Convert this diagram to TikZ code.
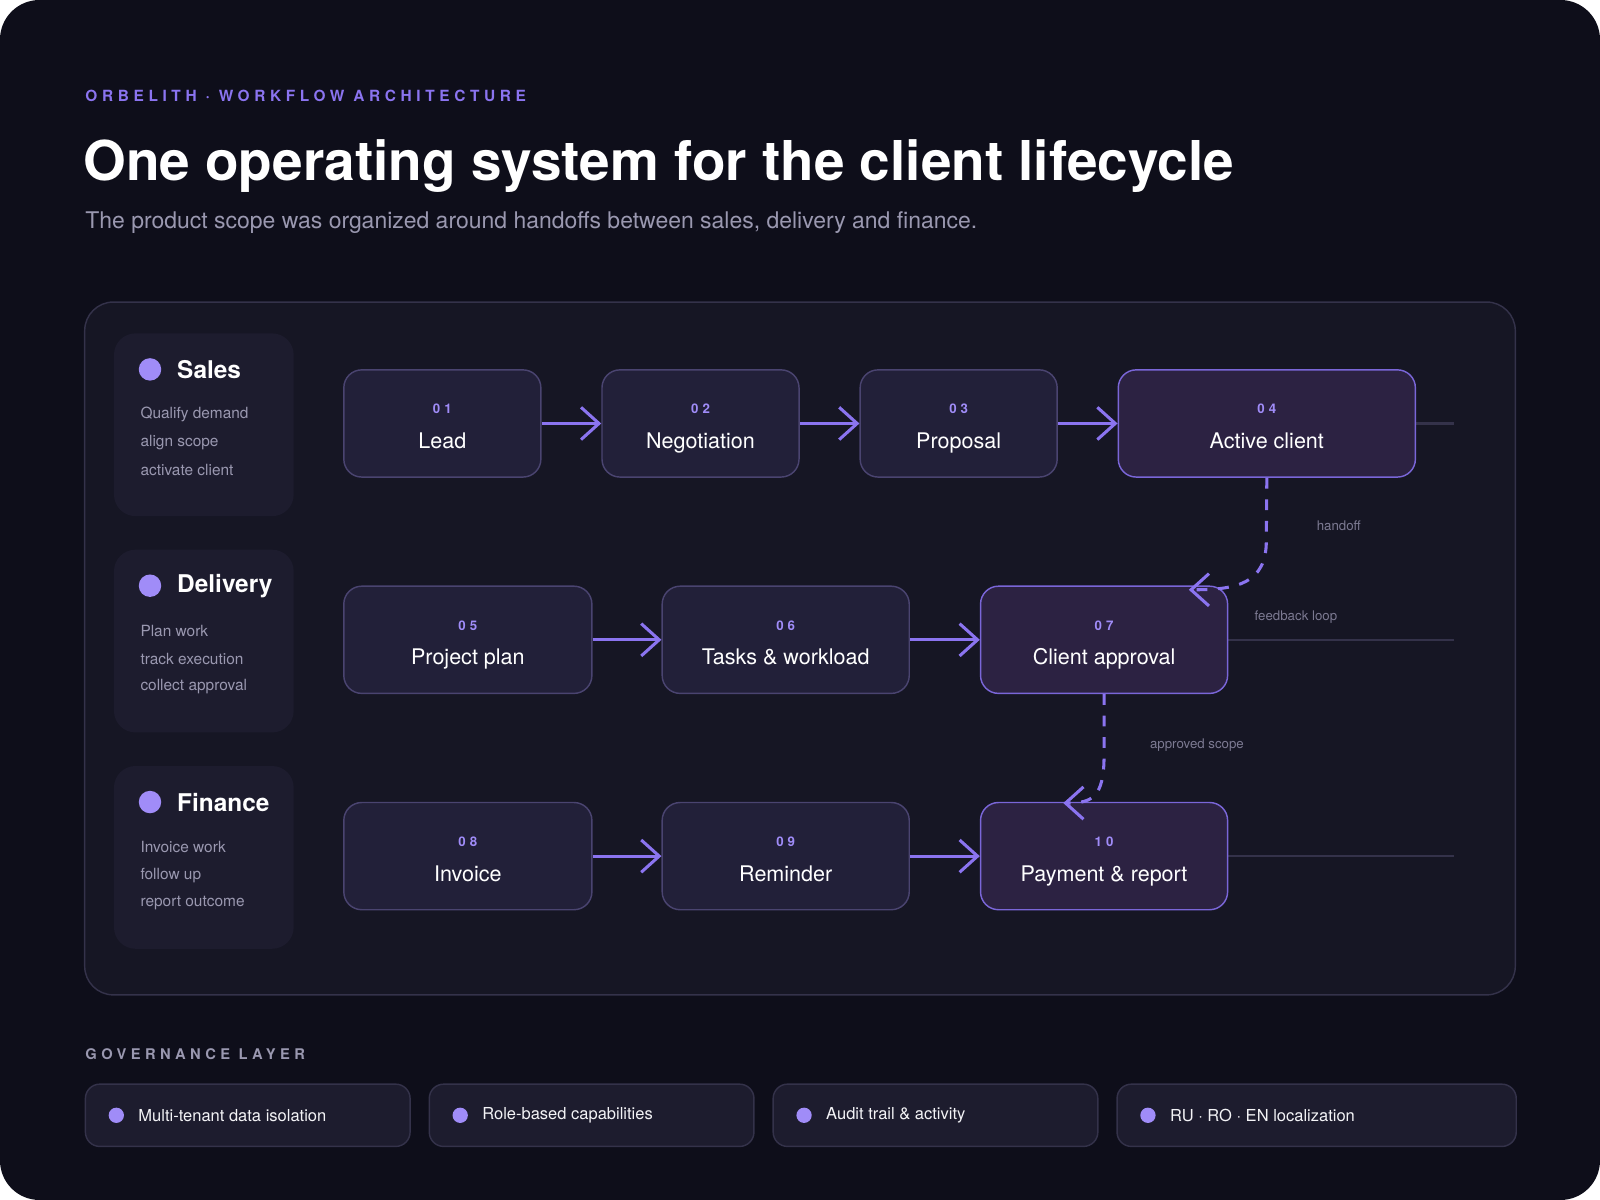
\documentclass[tikz,border=0pt]{standalone}
\usepackage{fontspec}
\setmainfont{TeX Gyre Heros}
\newfontfamily\spaced[LetterSpace=30]{TeX Gyre Heros}
\usetikzlibrary{arrows.meta, positioning}
\definecolor{pagebg}{HTML}{0E0E1A}
\definecolor{panelbg}{HTML}{161624}
\definecolor{panelline}{HTML}{34324A}
\definecolor{lanebg}{HTML}{1D1C2E}
\definecolor{stepbg}{HTML}{222039}
\definecolor{stepline}{HTML}{4A4470}
\definecolor{hotbg}{HTML}{2C2242}
\definecolor{hotline}{HTML}{7A66D8}
\definecolor{accent}{HTML}{8B74F0}
\definecolor{dotc}{HTML}{A08CF8}
\definecolor{greytxt}{HTML}{9A98B0}
\definecolor{dimtxt}{HTML}{7C7A92}
\tikzset{
  stepbox/.style={draw=stepline, fill=stepbg, line width=0.4pt, rounded corners=5pt, minimum height=1.05cm, text=white, font=\fontsize{6}{7}\selectfont, inner sep=0pt},
  hot/.style={stepbox, draw=hotline, fill=hotbg},
  num/.style={text=dotc, anchor=base, inner sep=0pt, font=\spaced\bfseries\fontsize{3.7}{4}\selectfont},
  flow/.style={draw=accent, line width=0.85pt, -{Straight Barb[length=5pt, width=9pt]}},
  hand/.style={draw=accent, line width=0.85pt, dash pattern=on 3pt off 3pt, -{Straight Barb[length=5pt, width=9pt]}},
  note/.style={text=dimtxt, font=\fontsize{3.7}{4}\selectfont},
  lane/.style={fill=lanebg, rounded corners=6pt, minimum width=1.76cm, minimum height=1.79cm, inner sep=0pt},
  dot/.style={circle, fill=dotc, minimum size=0.22cm, inner sep=0pt},
  chip/.style={draw=panelline, fill=lanebg, rounded corners=4pt, minimum height=0.61cm, inner sep=0pt},
}
\begin{document}
\begin{tikzpicture}[x=0.01cm, y=-0.01cm]
  % page
  \fill[white] (0,0) rectangle (1568,1176);
  \fill[pagebg, rounded corners=11pt] (0,0) rectangle (1568,1176);
  \useasboundingbox (0,0) rectangle (1568,1176);

  % header
  \node[anchor=west, text=accent, font=\spaced\bfseries\fontsize{4.3}{5}\selectfont, inner sep=0pt] (kicker) at (83,94) {ORBELITH · WORKFLOW ARCHITECTURE};
  \node[anchor=west, text=white, font=\bfseries\fontsize{15.3}{18}\selectfont, inner sep=0pt] (title) at (81,163) {One operating system for the client lifecycle};
  \node[anchor=west, text=greytxt, font=\fontsize{6.4}{7}\selectfont, inner sep=0pt] (sub) at (83,218) {The product scope was organized around handoffs between sales, delivery and finance.};

  % main panel
  \draw[panelline, fill=panelbg, rounded corners=8pt] (83,296) rectangle (1485,975);

  % lanes
  \foreach \y/\name/\a/\b/\c in {326/Sales/Qualify demand/align scope/activate client,
                                 538/Delivery/Plan work/track execution/collect approval,
                                 750/Finance/Invoice work/follow up/report outcome} {
    \node[lane, anchor=north west] at (111,\y) {};
    \node[dot] at (147,\y+36) {};
    \node[anchor=west, text=white, font=\bfseries\fontsize{6.8}{8}\selectfont, inner sep=0pt] at (173,\y+36) {\name};
    \node[anchor=west, text=greytxt, font=\fontsize{4.3}{5}\selectfont, inner sep=0pt] at (137,\y+80) {\a};
    \node[anchor=west, text=greytxt, font=\fontsize{4.3}{5}\selectfont, inner sep=0pt] at (137,\y+108) {\b};
    \node[anchor=west, text=greytxt, font=\fontsize{4.3}{5}\selectfont, inner sep=0pt] at (137,\y+135) {\c};
  }

  % lane guide lines
  \draw[panelline, line width=0.6pt] (1387,415) -- (1425,415);
  \draw[panelline, line width=0.6pt] (1203,627) -- (1425,627);
  \draw[panelline, line width=0.6pt] (1203,839) -- (1425,839);

  % steps, row 1
  \node[stepbox, minimum width=1.93cm] (s01) at (433.5,415) {};
  \node[stepbox, minimum width=1.93cm] (s02) at (686.5,415) {};
  \node[stepbox, minimum width=1.93cm] (s03) at (939.5,415) {};
  \node[hot, minimum width=2.91cm] (s04) at (1241.5,415) {};
  % steps, row 2
  \node[stepbox, minimum width=2.43cm] (s05) at (458.5,627) {};
  \node[stepbox, minimum width=2.42cm] (s06) at (770,627) {};
  \node[hot, minimum width=2.42cm] (s07) at (1082,627) {};
  % steps, row 3
  \node[stepbox, minimum width=2.43cm] (s08) at (458.5,839) {};
  \node[stepbox, minimum width=2.42cm] (s09) at (770,839) {};
  \node[hot, minimum width=2.42cm] (s10) at (1082,839) {};

  % step texts
  \foreach \s/\n/\t in {s01/01/Lead, s02/02/Negotiation, s03/03/Proposal, s04/04/Active client,
                        s05/05/Project plan, s06/06/Tasks \& workload, s07/07/Client approval,
                        s08/08/Invoice, s09/09/Reminder, s10/10/Payment \& report} {
    \node[num] at ([yshift=0.095cm]\s.center) {\n};
    \node[anchor=base, inner sep=0pt, text=white, font=\fontsize{6}{7}\selectfont] at ([yshift=-0.245cm]\s.center) {\t};
  }

  % flow arrows
  \draw[flow] (s01) -- (s02);
  \draw[flow] (s02) -- (s03);
  \draw[flow] (s03) -- (s04);
  \draw[flow] (s05) -- (s06);
  \draw[flow] (s06) -- (s07);
  \draw[flow] (s08) -- (s09);
  \draw[flow] (s09) -- (s10);

  % handoffs
  \coordinate (in07) at (1165,578);
  \coordinate (in10) at (1042,787);
  \draw[hand] (s04.south) -- (1241,530) .. controls (1241,572) and (1212,578) .. (in07);
  \draw[hand] (s07.south) -- (1082,740) .. controls (1082,782) and (1070,787) .. (in10);
  \node[note] (lbl1) at (1312,515) {handoff};
  \node[note] (lbl2) at (1270,605) {feedback loop};
  \node[note] (lbl3) at (1173,730) {approved scope};

  % governance
  \node[anchor=west, text=greytxt, font=\spaced\bfseries\fontsize{4.1}{5}\selectfont, inner sep=0pt] (gov) at (83,1033) {GOVERNANCE LAYER};
  \foreach \x/\w/\t in {83/3.18/Multi-tenant data isolation, 420/3.18/Role-based capabilities,
                        757/3.18/Audit trail \& activity, 1094/3.91/RU · RO · EN localization} {
    \node[chip, minimum width=\w cm, anchor=west] at (\x,1093) {};
    \node[dot, minimum size=0.15cm] at (\x+31,1093) {};
    \node[anchor=west, text=white!88!greytxt, font=\fontsize{4.6}{5}\selectfont, inner sep=0pt] at (\x+52,1093) {\t};
  }
\end{tikzpicture}
\end{document}
